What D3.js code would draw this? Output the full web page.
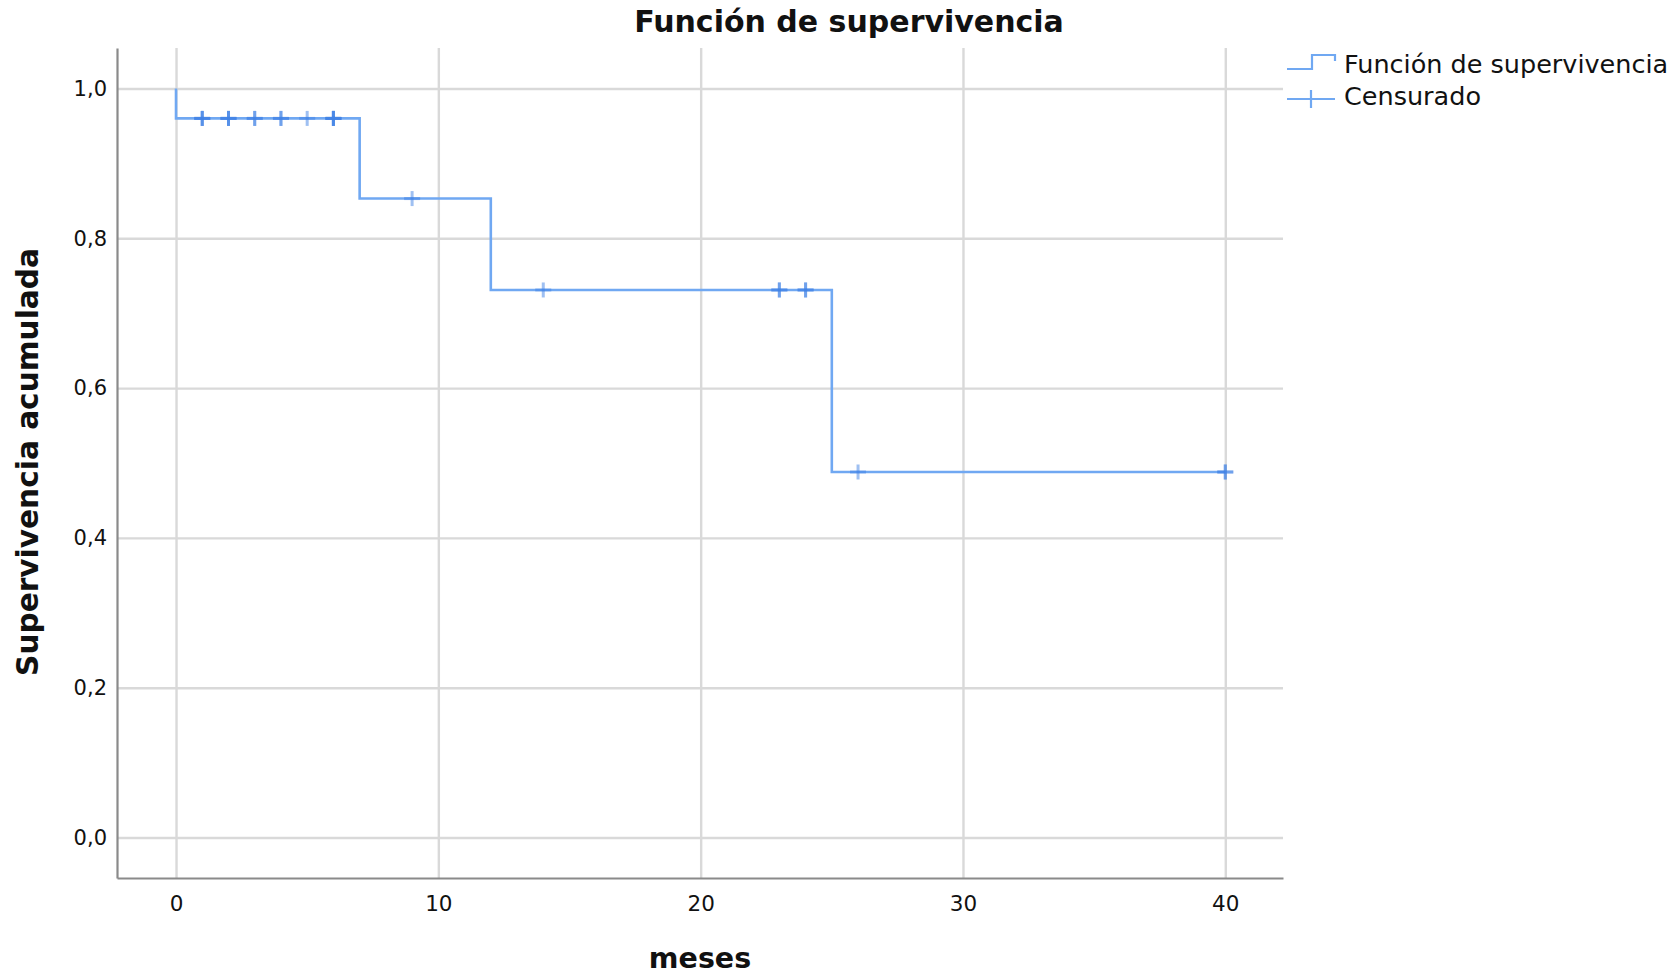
<!DOCTYPE html>
<html>
<head>
<meta charset="utf-8">
<script src="https://cdn.jsdelivr.net/npm/d3@7"></script>
<style>
  body { margin: 0; background: #fff; }
  text { font-family: "DejaVu Sans", sans-serif; fill: #111; }
</style>
</head>
<body>
<div id="chart"></div>
<script>
var svgWidth = 1675;
var svgHeight = 978;

// Kaplan-Meier step values
var eventTimes = [0, 7, 12, 25];
var survival = [0.96, 0.853, 0.731, 0.488];
var lastTime = 40;
// censored cases (repeats = overlapping marks)
var censorTimes = [1, 1, 1, 2, 2, 2, 3, 3, 4, 4, 5, 6, 6, 6, 6, 9, 14, 23, 23, 24, 24, 26, 40, 40];

var xTicks = [0, 10, 20, 30, 40];
var yTicks = [0, 0.2, 0.4, 0.6, 0.8, 1.0];
var legendLabels = ["Función de supervivencia", "Censurado"];

var margin = { top: 48, right: 392, bottom: 100, left: 117 };
var chartWidth = svgWidth - margin.left - margin.right;
var chartHeight = svgHeight - margin.top - margin.bottom;

var lineColor = "#70a8f2";
var gridColor = "#d9d9d9";
var axisColor = "#8a8a8a";

var locale = d3.formatLocale({ decimal: ",", thousands: ".", grouping: [3], currency: ["", "€"] });
var fmt = locale.format(".1f");

var svg = d3.select("#chart")
  .append("svg")
  .attr("width", svgWidth)
  .attr("height", svgHeight);

var chartGroup = svg.append("g")
  .attr("transform", `translate(${margin.left}, ${margin.top})`);

var x = d3.scaleLinear().domain([-2.25, 42.2]).range([0, chartWidth]);
var y = d3.scaleLinear().domain([-0.054, 1.054]).range([chartHeight, 0]);

// grid
chartGroup.append("g")
  .attr("class", "grid")
  .attr("transform", `translate(0, ${chartHeight})`)
  .call(d3.axisBottom(x).tickValues(xTicks).tickSize(-chartHeight).tickFormat(""))
  .call(g => g.select(".domain").remove());

chartGroup.append("g")
  .attr("class", "grid")
  .call(d3.axisLeft(y).tickValues(yTicks).tickSize(-chartWidth).tickFormat(""))
  .call(g => g.select(".domain").remove());

chartGroup.selectAll(".grid line")
  .attr("stroke", gridColor)
  .attr("stroke-width", 2.4);

// axes
var bottomAxis = d3.axisBottom(x).tickValues(xTicks).tickSize(0).tickPadding(18);
var leftAxis = d3.axisLeft(y).tickValues(yTicks).tickSize(0).tickPadding(10).tickFormat(fmt);

chartGroup.append("g")
  .attr("transform", `translate(0, ${chartHeight})`)
  .call(bottomAxis)
  .call(g => g.select(".domain").attr("stroke", axisColor).attr("stroke-width", 2.2))
  .selectAll("text")
  .style("font-size", "21.5px")
  .style("font-family", "DejaVu Sans, sans-serif")
  .attr("fill", "#111");

chartGroup.append("g")
  .call(leftAxis)
  .call(g => g.select(".domain").attr("stroke", axisColor).attr("stroke-width", 2.2))
  .selectAll("text")
  .style("font-size", "21px")
  .style("font-family", "DejaVu Sans, sans-serif")
  .attr("fill", "#111");

// survival step line
var stepData = [{ t: 0, s: 1 }];
eventTimes.forEach(function(t, i) {
  stepData.push({ t: t, s: survival[i] });
});
stepData.push({ t: lastTime, s: survival[survival.length - 1] });

var line = d3.line()
  .x(d => x(d.t))
  .y(d => y(d.s))
  .curve(d3.curveStepAfter);

chartGroup.append("path")
  .datum(stepData)
  .attr("d", line)
  .attr("fill", "none")
  .attr("stroke", lineColor)
  .attr("stroke-width", 2.6);

function survAt(t) {
  var s = 1;
  eventTimes.forEach(function(e, i) { if (e <= t) s = survival[i]; });
  return s;
}

// censor marks
var marks = chartGroup.selectAll(".censor").data(censorTimes).enter()
  .append("g")
  .attr("class", "censor")
  .attr("transform", d => `translate(${x(d)}, ${y(survAt(d))})`);

marks.append("line")
  .attr("x1", 0).attr("x2", 0).attr("y1", -7.5).attr("y2", 7.5);
marks.append("line")
  .attr("x1", -8).attr("x2", 8).attr("y1", 0).attr("y2", 0);
marks.selectAll("line")
  .attr("stroke", "#3f82e6")
  .attr("stroke-opacity", 0.5)
  .attr("stroke-width", 3);

// titles
svg.append("text")
  .attr("x", 849)
  .attr("y", 32)
  .attr("text-anchor", "middle")
  .style("font-size", "30px")
  .style("font-weight", "bold")
  .text("Función de supervivencia");

svg.append("text")
  .attr("transform", `translate(${margin.left + chartWidth / 2}, 968)`)
  .attr("text-anchor", "middle")
  .style("font-size", "28.5px")
  .style("font-weight", "bold")
  .text("meses");

svg.append("text")
  .attr("transform", `translate(38, ${margin.top + y(0.5) - 1}) rotate(-90)`)
  .attr("text-anchor", "middle")
  .style("font-size", "29.6px")
  .style("font-weight", "bold")
  .text("Supervivencia acumulada");

// legend
var legend = svg.append("g").attr("transform", "translate(1287, 0)");

legend.append("path")
  .attr("d", "M0,69 H25 V55 H48 V61")
  .attr("fill", "none")
  .attr("stroke", lineColor)
  .attr("stroke-width", 2.2);

legend.append("line")
  .attr("x1", 0).attr("x2", 48).attr("y1", 99).attr("y2", 99)
  .attr("stroke", lineColor).attr("stroke-width", 2.2);
legend.append("line")
  .attr("x1", 24).attr("x2", 24).attr("y1", 90).attr("y2", 108)
  .attr("stroke", lineColor).attr("stroke-width", 2.2);

legend.selectAll(".legtext").data(legendLabels).enter()
  .append("text")
  .attr("class", "legtext")
  .attr("x", 57)
  .attr("y", (d, i) => 73 + i * 32)
  .style("font-size", "25.5px")
  .text(d => d);
</script>
</body>
</html>
